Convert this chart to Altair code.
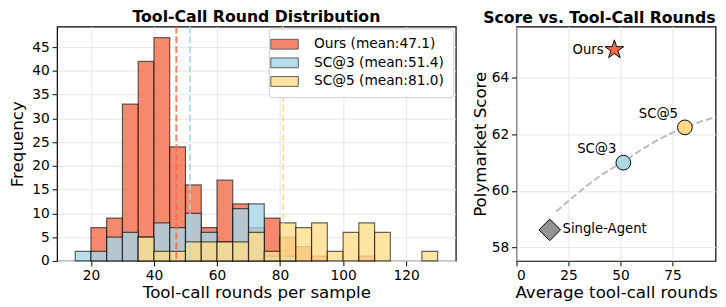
import altair as alt
import pandas as pd

# ---------------- data: histogram ----------------
bin_width = 5
bin_starts = list(range(15, 130, 5))  # 15 .. 125
ours_counts = [0, 7, 9, 33, 42, 47, 24, 16, 7, 17, 12, 7, 9, 5, 3, 1, 0, 0, 1, 0, 0, 0, 0]
sc3_counts = [2, 2, 5, 6, 5, 8, 7, 10, 6, 4, 11, 12, 1, 1, 0, 0, 0, 0, 0, 0, 0, 0, 0]
sc5_counts = [0, 0, 0, 0, 5, 2, 2, 4, 4, 4, 4, 6, 2, 8, 7, 8, 2, 6, 8, 6, 0, 0, 2]

series_names = ["Ours (mean:47.1)", "SC@3 (mean:51.4)", "SC@5 (mean:81.0)"]
series_means = [47.1, 51.4, 81.0]
series_colors = ["#F26B4A", "#A6D5E6", "#FFDD8B"]

x_ticks_left = [20, 40, 60, 80, 100, 120]
y_ticks_left = [0, 5, 10, 15, 20, 25, 30, 35, 40, 45]

# ---------------- data: scatter ----------------
method_names = ["Ours", "SC@3", "SC@5", "Single-Agent"]
avg_rounds = [47.1, 51.4, 81.0, 16.0]
scores = [65.0, 61.0, 62.25, 58.62]
method_colors = ["#F26B4A", "#ADD8E6", "#FFDA85", "#939393"]

trend_x = [19.1, 30.0, 40.0, 51.2, 65.0, 80.9, 96.0]
trend_y = [59.27, 59.95, 60.52, 61.03, 61.68, 62.25, 62.62]

x_ticks_right = [0, 25, 50, 75]
y_ticks_right = [58, 60, 62, 64]

FONT = "DejaVu Sans"

rows = []
for idx, (name, counts) in enumerate(zip(series_names, [ours_counts, sc3_counts, sc5_counts])):
    for s, c in zip(bin_starts, counts):
        if c > 0:
            rows.append({"series": name, "idx": idx, "start": s, "end": s + bin_width, "count": c})
hist_df = pd.DataFrame(rows)

color_scale = alt.Scale(domain=series_names, range=series_colors)
x_left = alt.Scale(domain=[9.25, 135.75], nice=False, zero=False)
y_left = alt.Scale(domain=[0, 49.35], nice=False)

bars = alt.Chart(hist_df).mark_bar(
    stroke="black", strokeOpacity=0.6, strokeWidth=1.2, fillOpacity=0.8
).encode(
    x=alt.X("start:Q", scale=x_left,
            axis=alt.Axis(values=x_ticks_left, title="Tool-call rounds per sample")),
    x2="end:Q",
    y=alt.Y("count:Q", stack=None, scale=y_left,
            axis=alt.Axis(values=y_ticks_left, title="Frequency", titlePadding=5)),
    y2=alt.datum(0),
    color=alt.Color("series:N", scale=color_scale, sort=series_names,
                    legend=alt.Legend(
                        title=None, orient="none", legendX=216, legendY=2,
                        symbolType="M-2.8,-1H2.8V1H-2.8Z", symbolSize=100,
                        symbolStrokeColor="#333333", symbolStrokeWidth=1,
                        symbolOpacity=0.8, labelFontSize=14, labelFont=FONT,
                        labelColor="black", labelOffset=23, rowPadding=5,
                        padding=9, fillColor="white", strokeColor="#cccccc",
                        cornerRadius=3)),
    order=alt.Order("idx:Q"),
)

layers = [bars]
for m, col in zip(series_means, series_colors):
    mdf = pd.DataFrame({"mean": [m]})
    layers.append(
        alt.Chart(mdf).mark_rule(color=col, strokeDash=[7, 3], strokeWidth=2, opacity=0.85)
        .encode(x=alt.X("mean:Q", scale=x_left))
    )

left = alt.layer(*layers).properties(
    width=406.6, height=239,
    title=alt.Title("Tool-Call Round Distribution"),
)

# ---------------- right chart ----------------
star = "M0,-1L0.2245,-0.309L0.9511,-0.309L0.3633,0.118L0.5878,0.809L0,0.382L-0.5878,0.809L-0.3633,0.118L-0.9511,-0.309L-0.2245,-0.309Z"
diamond = "M0,-1L1,0L0,1L-1,0Z"
pts_df = pd.DataFrame({"method": method_names, "rounds": avg_rounds, "score": scores})
trend_df = pd.DataFrame({"x": trend_x, "y": trend_y})

x_right = alt.Scale(domain=[0, 95.75], nice=False, zero=False)
y_right = alt.Scale(domain=[57.52, 65.82], nice=False, zero=False)

trend = alt.Chart(trend_df).mark_line(
    color="#bdbdbd", strokeWidth=2, strokeDash=[7, 3], interpolate="monotone", clip=True
).encode(
    x=alt.X("x:Q", scale=x_right, axis=alt.Axis(values=x_ticks_right, title="Average tool-call rounds")),
    y=alt.Y("y:Q", scale=y_right, axis=alt.Axis(values=y_ticks_right, title="Polymarket Score")),
)

points = alt.Chart(pts_df).mark_point(
    filled=True, stroke="black", strokeWidth=1, opacity=1
).encode(
    x=alt.X("rounds:Q", scale=x_right),
    y=alt.Y("score:Q", scale=y_right),
    shape=alt.Shape("method:N", scale=alt.Scale(domain=method_names, range=[star, "circle", "circle", diamond]), legend=None),
    fill=alt.Fill("method:N", scale=alt.Scale(domain=method_names, range=method_colors), legend=None),
    size=alt.Size("method:N", scale=alt.Scale(type="ordinal", domain=method_names, range=[400, 225, 225, 484]), legend=None),
)

lbl_base = alt.Chart(pts_df).encode(
    x=alt.X("rounds:Q", scale=x_right),
    y=alt.Y("score:Q", scale=y_right),
    text="method:N",
)
lbl_ours = lbl_base.transform_filter(alt.datum.method == "Ours").mark_text(
    align="right", baseline="middle", dx=-11, fontSize=13.5, font=FONT, color="black")
lbl_sc = lbl_base.transform_filter((alt.datum.method == "SC@3") | (alt.datum.method == "SC@5")).mark_text(
    align="right", baseline="middle", dx=-7, dy=-14, fontSize=13.5, font=FONT, color="black")
lbl_single = lbl_base.transform_filter(alt.datum.method == "Single-Agent").mark_text(
    align="left", baseline="middle", dx=13, dy=-1, fontSize=13.5, font=FONT, color="black")

right = alt.layer(trend, points, lbl_ours, lbl_sc, lbl_single).properties(
    width=203, height=239,
    title=alt.Title("Score vs. Tool-Call Rounds", dx=-17),
)

chart = alt.hconcat(left, right, spacing=13.5).properties(
    padding={"left": 0, "top": -3, "right": 0, "bottom": 0}
).configure_axis(
    labelFont=FONT, titleFont=FONT, labelFontSize=14, titleFontSize=17,
    labelColor="black", titleColor="black", titleFontWeight="normal",
    tickColor="black", tickSize=5, tickWidth=1, domain=False,
    gridColor="#e6e6e6", gridWidth=1, labelPadding=3, titlePadding=2,
).configure_view(stroke="black", strokeWidth=1.2).configure_title(
    font=FONT, fontSize=16, fontWeight="bold", color="black", offset=1,
    baseline="alphabetic"
)

chart.save("out.html", embed_options={"renderer": "svg", "actions": False})
